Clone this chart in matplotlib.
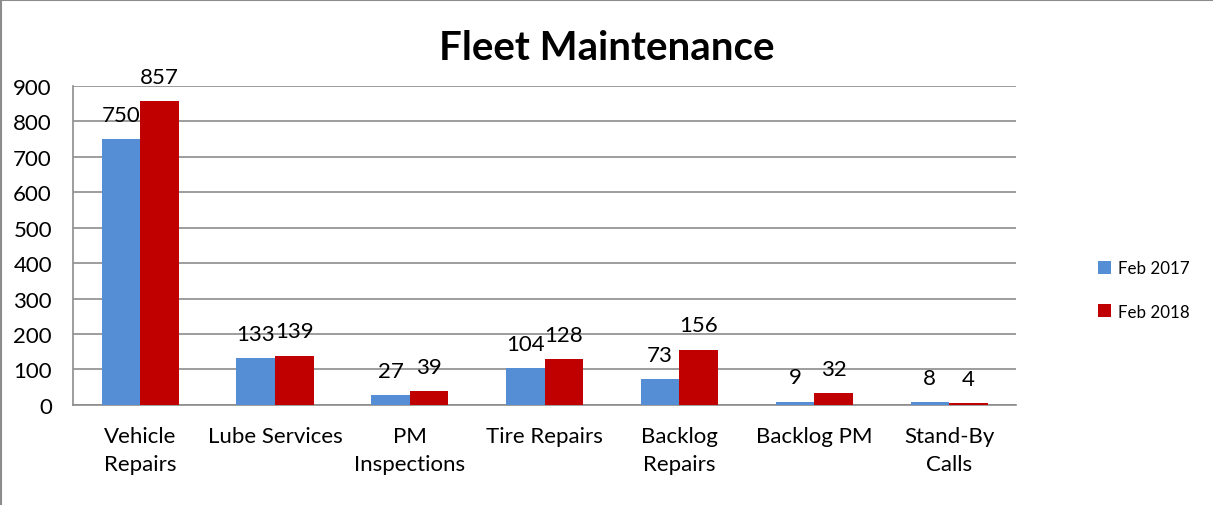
#!/usr/bin/env python3

# Fleet Maintenance: Feb 2017 vs Feb 2018 grouped bars

import numpy as np
from matplotlib import pyplot as plt
from matplotlib.lines import Line2D

plt.rcParams["font.family"] = ["Lato", "DejaVu Sans"]

categories = ["Vehicle\nRepairs", "Lube Services", "PM\nInspections", "Tire Repairs",
              "Backlog\nRepairs", "Backlog PM", "Stand-By\nCalls"]
feb_2017 = [750, 133, 27, 104, 73, 9, 8]
feb_2018 = [857, 139, 39, 128, 156, 32, 4]

fig = plt.figure(figsize=(12.13, 5.06), dpi=100)
ax = fig.add_axes([0.060, 0.198, 0.778, 0.630])

x = np.arange(len(categories))
w = 0.286
b1 = ax.bar(x - w / 2, feb_2017, w, color="#558ED5", label="Feb 2017", zorder=3)
b2 = ax.bar(x + w / 2, feb_2018, w, color="#C00000", label="Feb 2018", zorder=3)

for bars in (b1, b2):
    for r in bars:
        ax.text(r.get_x() + r.get_width() / 2, r.get_height() + 40, f"{int(r.get_height())}",
                ha="center", va="bottom", fontsize=16, color="black")

ax.set_xlim(-0.5, len(categories) - 0.5)
ax.set_ylim(0, 900)
ax.set_yticks(range(0, 901, 100))
ax.set_xticks(x)
ax.set_xticklabels(categories, fontsize=16, linespacing=1.5)
ax.tick_params(axis="y", labelsize=16, length=0, pad=15)
ax.tick_params(axis="x", length=0, pad=15)
ax.grid(axis="y", color="#8c8c8c", linewidth=1.2, zorder=0)

for s in ("top", "right"):
    ax.spines[s].set_visible(False)
for s in ("left", "bottom"):
    ax.spines[s].set_color("#8c8c8c")
    ax.spines[s].set_linewidth(1.2)

fig.text(0.50, 0.905, "Fleet Maintenance", ha="center", va="center",
         fontsize=29, fontweight="bold")

ax.legend(loc="center left", bbox_to_anchor=(1.07, 0.36), frameon=False,
          fontsize=12.2, handlelength=0.75, handleheight=0.75, handletextpad=0.45,
          labelspacing=1.6)

# outer frame of the chart, only left and top edges visible
fig.add_artist(Line2D([0.001, 0.001], [0, 1], color="#8c8c8c", linewidth=1.5))
fig.add_artist(Line2D([0, 1], [0.998, 0.998], color="#8c8c8c", linewidth=1.5))

fig.savefig("out.png", dpi=100)
